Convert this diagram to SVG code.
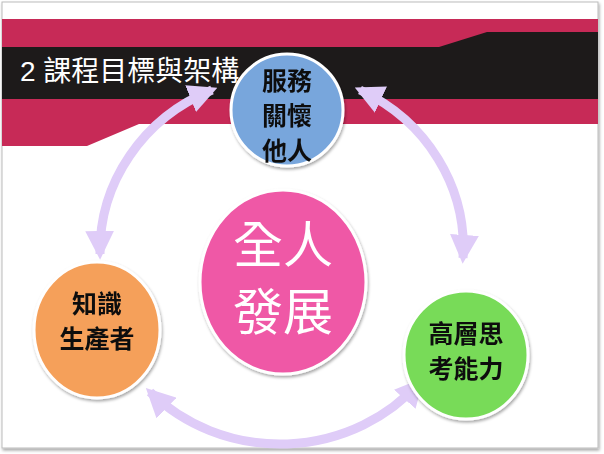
<svg xmlns="http://www.w3.org/2000/svg" width="604" height="454" viewBox="0 0 604 454">
<style>
.t{font-family:"Noto Sans CJK TC","Noto Sans CJK SC",sans-serif;font-weight:bold;fill:#111;font-size:25px;text-anchor:middle}
.w{fill:#fff;font-weight:normal;font-size:50px}
.a{fill:none;stroke:#dfccf8;stroke-width:9}
.n{stroke:#fff;stroke-width:3}
</style>
<defs>
<marker id="h" viewBox="0 0 10 10" refX="8" refY="5" markerWidth="3.2" markerHeight="3.2" orient="auto-start-reverse" markerUnits="strokeWidth"><path d="M0,0L10,5L0,10z" fill="#dfccf8"/></marker>
<filter id="s" x="-10%" y="-10%" width="120%" height="120%"><feDropShadow dx="1" dy="2" stdDeviation="1.5" flood-color="#000" flood-opacity="0.35"/></filter>
</defs>
<rect x="0" y="0" width="604" height="454" fill="#fff"/>
<rect x="2" y="2" width="596" height="446" fill="#fff" stroke="#bbb" stroke-width="1" filter="url(#s)"/>
<g id="banner">
<path d="M2,19H598V124H139L87,146H2Z" fill="#c72a57"/>
<path d="M2,47H439L487,32H598V99H2Z" fill="#1d1a1a"/>
<text x="20" y="81" font-family="'Liberation Sans','Noto Sans CJK TC',sans-serif" font-size="28" fill="#fff">2 課程目標與架構</text>
</g>
<g id="connectors">
<path class="a" d="M212,90A183 175 0 0 0 100,254" marker-start="url(#h)" marker-end="url(#h)"/>
<path class="a" d="M360,90A183 175 0 0 1 463,258" marker-start="url(#h)" marker-end="url(#h)"/>
<path class="a" d="M150,392A183 175 0 0 0 420,382" marker-start="url(#h)" marker-end="url(#h)"/>
</g>
<g id="blue" filter="url(#s)"><ellipse class="n" cx="287" cy="110" rx="56" ry="56" fill="#78a6dc"/>
<text class="t"><tspan x="287" y="90">服務</tspan><tspan x="287" y="125">關懷</tspan><tspan x="287" y="160">他人</tspan></text></g>
<g id="pink" filter="url(#s)"><ellipse class="n" cx="283" cy="282" rx="83" ry="92" fill="#ef59a6"/>
<text class="t w"><tspan x="283" y="263">全人</tspan><tspan x="283" y="330">發展</tspan></text></g>
<g id="orange" filter="url(#s)"><ellipse class="n" cx="97" cy="330" rx="63" ry="68" fill="#f5a05a"/>
<text class="t"><tspan x="97" y="313">知識</tspan><tspan x="97" y="348">生產者</tspan></text></g>
<g id="green" filter="url(#s)"><ellipse class="n" cx="466" cy="355" rx="62" ry="64" fill="#78db59"/>
<text class="t"><tspan x="466" y="343">高層思</tspan><tspan x="466" y="378">考能力</tspan></text></g>
</svg>
